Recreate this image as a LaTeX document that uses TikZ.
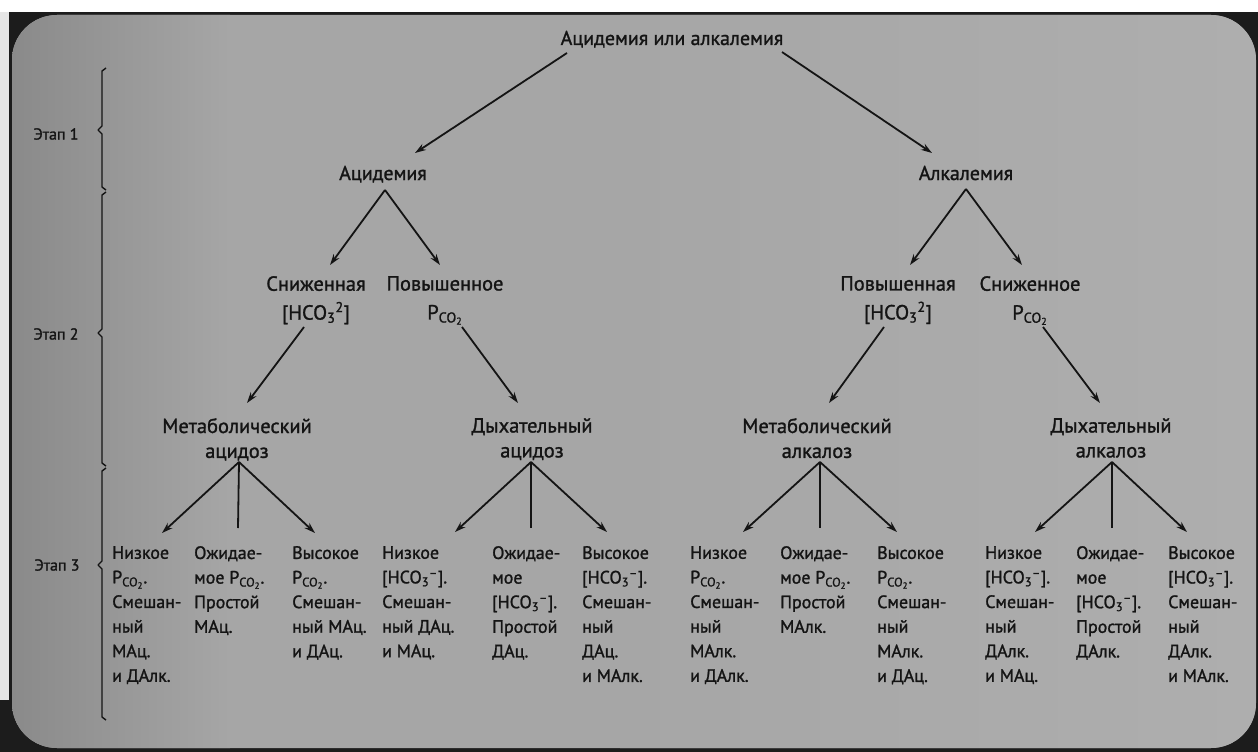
\documentclass[tikz,border=0pt]{standalone}
\usepackage{fontspec}
\setmainfont{PT Sans}[FakeBold=1.3]
\usetikzlibrary{arrows.meta,calc}
\definecolor{bgdark}{HTML}{1C1C1C}
\definecolor{bgL}{HTML}{8A8A8A}
\definecolor{bgM}{HTML}{A6A6A6}
\definecolor{bgR}{HTML}{AEAEAE}
\definecolor{strip}{HTML}{E6E6E6}
\definecolor{ink}{HTML}{141414}
\newcommand{\pco}{P\textsubscript{CO\textsubscript{2}}}
\newcommand{\hco}{[HCO\textsubscript{3}\textsuperscript{–}]}
\newcommand{\hcotwo}{[HCO\textsubscript{3}\textsuperscript{2}]}
\begin{document}
\begin{tikzpicture}[x=1bp,y=-1bp,
  lvlone/.style={text=ink, font=\fontsize{20}{24}\selectfont, inner sep=0pt, anchor=base},
  lvltwo/.style={text=ink, font=\fontsize{20.5}{29}\selectfont, align=center, inner sep=0pt, anchor=north},
  lvlthree/.style={text=ink, font=\fontsize{20.5}{25}\selectfont, align=center, inner sep=0pt, anchor=north},
  col/.style={text=ink, font=\fontsize{18}{24.7}\selectfont, align=left, anchor=north west, inner sep=0pt},
  stage/.style={text=ink, font=\fontsize{16}{18}\selectfont, inner sep=0pt},
  arr/.style={draw=ink, line width=1.8bp, -{Stealth[length=11bp,width=7bp]}},
  ln/.style={draw=ink, line width=1.8bp},
  brace/.style={draw=ink, line width=1.4bp, line join=round}]
\useasboundingbox (0,0) rectangle (1258,752);
% background (photographed page)
\fill[bgdark] (0,0) rectangle (1258,752);
\fill[white] (0,0) rectangle (1258,12);
\fill[strip] (0,12) rectangle (9,700);
\fill[bgM, rounded corners=45bp] (12,15) rectangle (1256,748);
\begin{scope}
  \clip[rounded corners=45bp] (12,15) rectangle (1256,748);
  \shade[left color=bgL, right color=bgM] (12,15) rectangle (230,748);
  \shade[left color=bgM, right color=bgR] (620,15) rectangle (1256,748);
\end{scope}

% stage braces
\draw[brace] (106,68) -- (102,71) -- (102,126) -- (98,130) -- (102,134) -- (102,187) -- (106,190);
\draw[brace] (106,192) -- (102,195) -- (102,329) -- (98,333) -- (102,337) -- (102,463) -- (106,466);
\draw[brace] (106,468) -- (102,471) -- (102,561) -- (98,565) -- (102,569) -- (102,717) -- (106,720);
\node[stage] (s1) at (56,134) {Этап 1};
\node[stage] (s2) at (56,334) {Этап 2};
\node[stage] (s3) at (57,565) {Этап 3};

% level 1
\node[lvlone] (top) at (672,45) {Ацидемия или алкалемия};
\node[lvlone] (acid) at (383,180) {Ацидемия};
\node[lvlone] (alk) at (966,180) {Алкалемия};

% level 2
\node[lvltwo] (ac1) at (316,276) {Сниженная\\\hcotwo};
\node[lvltwo] (ac2) at (445,276) {Повышенное\\\pco};
\node[lvltwo] (al1) at (898,276) {Повышенная\\\hcotwo};
\node[lvltwo] (al2) at (1030,276) {Сниженное\\\pco};

% level 3
\node[lvlthree] (ma) at (237,418) {Метаболический\\ацидоз};
\node[lvlthree] (ra) at (532,418) {Дыхательный\\ацидоз};
\node[lvlthree] (mal) at (817,418) {Метаболический\\алкалоз};
\node[lvlthree] (ral) at (1111,418) {Дыхательный\\алкалоз};

% columns
\node[col] (c1) at (112,546) {Низкое\\\pco.\\Смешан-\\ный\\МАц.\\и ДАлк.};
\node[col] (c2) at (194,546) {Ожидае-\\мое \pco.\\Простой\\МАц.};
\node[col] (c3) at (292,546) {Высокое\\\pco.\\Смешан-\\ный МАц.\\и ДАц.};
\node[col] (c4) at (382,546) {Низкое\\\hco.\\Смешан-\\ный ДАц.\\и МАц.};
\node[col] (c5) at (492,546) {Ожидае-\\мое\\\hco.\\Простой\\ДАц.};
\node[col] (c6) at (582,546) {Высокое\\\hco.\\Смешан-\\ный\\ДАц.\\и МАлк.};
\node[col] (c7) at (690,546) {Низкое\\\pco.\\Смешан-\\ный\\МАлк.\\и ДАлк.};
\node[col] (c8) at (780,546) {Ожидае-\\мое \pco.\\Простой\\МАлк.};
\node[col] (c9) at (877,546) {Высокое\\\pco.\\Смешан-\\ный\\МАлк.\\и ДАц.};
\node[col] (c10) at (985,546) {Низкое\\\hco.\\Смешан-\\ный\\ДАлк.\\и МАц.};
\node[col] (c11) at (1076,546) {Ожидае-\\мое\\\hco.\\Простой\\ДАлк.};
\node[col] (c12) at (1168,546) {Высокое\\\hco.\\Смешан-\\ный\\ДАлк.\\и МАлк.};

% connectors level 1
\draw[arr] ($(top.base)+(-105,8)$) -- ($(acid.base)+(32,-27)$);
\draw[arr] ($(top.base)+(110,7)$) -- ($(alk.base)+(-34,-27)$);
% level 1 -> 2
\draw[arr] ($(acid.base)+(2,10)$) -- ($(ac1.north)+(14,-11)$);
\draw[arr] ($(acid.base)+(2,10)$) -- ($(ac2.north)+(-5,-11)$);
\draw[arr] ($(alk.base)+(0,9)$) -- ($(al1.north)+(12,-11)$);
\draw[arr] ($(alk.base)+(0,9)$) -- ($(al2.north)+(-8,-11)$);
% level 2 -> 3
\draw[arr] ($(ac1.north)+(-12,51)$) -- ($(ma.north)+(10,-15)$);
\draw[arr] ($(ac2.north)+(17,51)$) -- ($(ra.north)+(-14,-15)$);
\draw[arr] ($(al1.north)+(-14,51)$) -- ($(mal.north)+(12,-15)$);
\draw[arr] ($(al2.north)+(13,51)$) -- ($(ral.north)+(-11,-15)$);
% level 3 -> columns
\draw[arr] ($(ma.north)+(2,44)$) -- ($(c1.north west)+(50,-13)$);
\draw[ln]  ($(ma.north)+(2,44)$) -- ($(c2.north west)+(44,-18)$);
\draw[arr] ($(ma.north)+(2,44)$) -- ($(c3.north west)+(23,-13)$);
\draw[arr] ($(ra.north)+(-1,44)$) -- ($(c4.north west)+(73,-14)$);
\draw[ln]  ($(ra.north)+(-1,44)$) -- ($(c5.north west)+(39,-18)$);
\draw[arr] ($(ra.north)+(-1,44)$) -- ($(c6.north west)+(25,-14)$);
\draw[arr] ($(mal.north)+(3,44)$) -- ($(c7.north west)+(53,-14)$);
\draw[ln]  ($(mal.north)+(3,44)$) -- ($(c8.north west)+(40,-18)$);
\draw[arr] ($(mal.north)+(3,44)$) -- ($(c9.north west)+(20,-14)$);
\draw[arr] ($(ral.north)+(1,44)$) -- ($(c10.north west)+(50,-14)$);
\draw[ln]  ($(ral.north)+(1,44)$) -- ($(c11.north west)+(36,-18)$);
\draw[arr] ($(ral.north)+(1,44)$) -- ($(c12.north west)+(19,-14)$);
\end{tikzpicture}
\end{document}
